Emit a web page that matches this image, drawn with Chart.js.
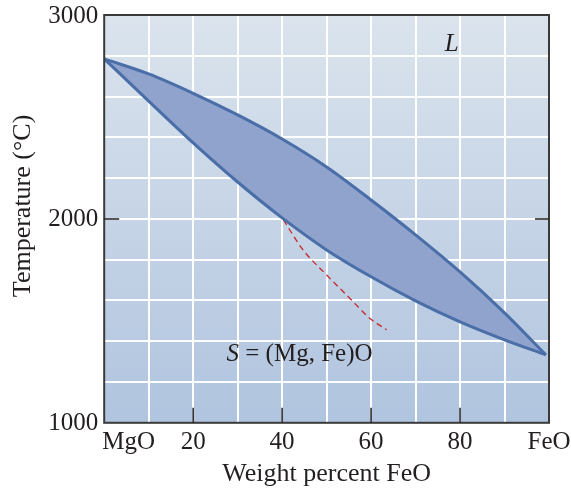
<!DOCTYPE html>
<html>
<head>
<meta charset="utf-8">
<script src="https://cdn.jsdelivr.net/npm/chart.js@4.4.1/dist/chart.umd.min.js"></script>
<style>
  html, body { margin: 0; padding: 0; background: #fff; }
  #wrap { width: 571px; height: 493px; }
</style>
</head>
<body>
<div id="wrap"><canvas id="phaseChart"></canvas></div>
<script>
// MgO-FeO phase diagram
var liquidusWt = [0, 10, 20, 30, 40, 50, 60, 70, 80, 90, 99.3];
var liquidusT = [2785, 2711, 2616, 2510, 2392, 2255, 2093, 1922, 1740, 1539, 1333];

var solidusWt = [0, 10, 20, 30, 40, 50, 60, 70, 80, 90, 99.3];
var solidusT = [2785, 2578, 2373, 2181, 2005, 1848, 1716, 1598, 1495, 1407, 1333];

var dashWt = [40.3, 44.7, 49.6, 55.2, 59.7, 63.5];
var dashT = [1995, 1848, 1734, 1611, 1513, 1456];

var xTickValues = [0, 20, 40, 60, 80, 100];
var xTickLabels = ["MgO", "20", "40", "60", "80", "FeO"];
var yTickValues = [1000, 2000, 3000];
var yTickLabels = ["1000", "2000", "3000"];

var serif = "'Liberation Serif', 'DejaVu Serif', serif";
var ink = "#231f20";

function toPoints(xs, ys) {
  return xs.map(function (x, i) { return { x: x, y: ys[i] }; });
}

// gradient background behind the plot area
var backdrop = {
  id: "backdrop",
  beforeDraw: function (chart) {
    var a = chart.chartArea;
    var ctx = chart.ctx;
    var g = ctx.createLinearGradient(0, a.top, 0, a.bottom);
    g.addColorStop(0, "#dbe4ed");
    g.addColorStop(1, "#b0c4df");
    ctx.save();
    ctx.fillStyle = g;
    ctx.fillRect(a.left, a.top, a.right - a.left, a.bottom - a.top);
    ctx.restore();
  }
};

// frame, inner tick marks, tick labels and the region labels
var extras = {
  id: "extras",
  afterDraw: function (chart) {
    var a = chart.chartArea;
    var ctx = chart.ctx;
    var xs = chart.scales.x;
    var ys = chart.scales.y;
    ctx.save();
    ctx.strokeStyle = "#3a3a3a";
    ctx.lineWidth = 2;
    ctx.strokeRect(a.left, a.top, a.right - a.left, a.bottom - a.top);

    ctx.strokeStyle = ink;
    ctx.lineWidth = 1.5;
    ctx.beginPath();
    [20, 40, 60, 80].forEach(function (v) {
      var px = xs.getPixelForValue(v);
      ctx.moveTo(px, a.bottom);
      ctx.lineTo(px, a.bottom - 15);
    });
    var py = ys.getPixelForValue(2000);
    ctx.moveTo(a.left, py);
    ctx.lineTo(a.left + 15, py);
    ctx.moveTo(a.right, py);
    ctx.lineTo(a.right - 14, py);
    ctx.stroke();

    ctx.fillStyle = ink;
    ctx.font = "25px " + serif;
    ctx.textBaseline = "middle";
    xTickValues.forEach(function (v, i) {
      var px = xs.getPixelForValue(v);
      if (i === 0) {
        ctx.textAlign = "left";
        ctx.fillText(xTickLabels[i], px - 2, a.bottom + 20);
      } else {
        ctx.textAlign = "center";
        ctx.fillText(xTickLabels[i], px, a.bottom + 20);
      }
    });
    ctx.textAlign = "right";
    yTickValues.forEach(function (v, i) {
      ctx.fillText(yTickLabels[i], a.left - 6, ys.getPixelForValue(v) + 1);
    });

    ctx.textAlign = "center";
    ctx.font = "italic 25px " + serif;
    ctx.fillText("L", xs.getPixelForValue(78.1), ys.getPixelForValue(2855));

    var sx = xs.getPixelForValue(27.5);
    var sy = ys.getPixelForValue(1333);
    ctx.textAlign = "left";
    ctx.fillText("S", sx, sy);
    var w = ctx.measureText("S").width;
    ctx.font = "25px " + serif;
    ctx.fillText(" = (Mg, Fe)O", sx + w, sy);
    ctx.restore();
  }
};

var phaseCanvas = document.getElementById("phaseChart");

var phaseChart = new Chart(phaseCanvas, {
  type: "scatter",
  data: {
    datasets: [
      {
        label: "Liquidus",
        data: toPoints(liquidusWt, liquidusT),
        showLine: true,
        borderColor: "#4a6ea8",
        borderWidth: 3,
        backgroundColor: "#8fa3cc",
        fill: "+1",
        pointRadius: 0,
        cubicInterpolationMode: "monotone",
      },
      {
        label: "Solidus",
        data: toPoints(solidusWt, solidusT),
        showLine: true,
        borderColor: "#4a6ea8",
        borderWidth: 3,
        pointRadius: 0,
        fill: false,
        cubicInterpolationMode: "monotone",
      },
      {
        label: "Dashed",
        data: toPoints(dashWt, dashT),
        showLine: true,
        borderColor: "#c8262c",
        borderWidth: 1.3,
        borderDash: [6, 4],
        pointRadius: 0,
        fill: false,
        cubicInterpolationMode: "monotone",
      },
    ],
  },
  options: {
    responsive: true,
    maintainAspectRatio: false,
    animation: false,
    layout: { padding: { top: 15, right: 22, left: 8, bottom: 3 } },
    plugins: {
      legend: { display: false },
      tooltip: { enabled: false },
      filler: { drawTime: "beforeDatasetsDraw" },
    },
    scales: {
      x: {
        type: "linear",
        min: 0,
        max: 100,
        grid: { color: "#ffffff", lineWidth: 2, drawTicks: false },
        border: { display: false },
        ticks: { stepSize: 10, autoSkip: false, display: false },
        title: {
          display: true,
          text: "Weight percent FeO",
          color: ink,
          font: { family: serif, size: 26 },
          padding: { top: 36, bottom: 0 },
        },
      },
      y: {
        type: "linear",
        min: 1000,
        max: 3000,
        grid: { color: "#ffffff", lineWidth: 2, drawTicks: false },
        border: { display: false },
        ticks: { stepSize: 200, autoSkip: false, display: false },
        title: {
          display: true,
          text: "    Temperature (°C)",
          color: ink,
          font: { family: serif, size: 26 },
          padding: { top: 0, bottom: 65 },
        },
      },
    },
  },
  plugins: [backdrop, extras],
});
</script>
</body>
</html>
